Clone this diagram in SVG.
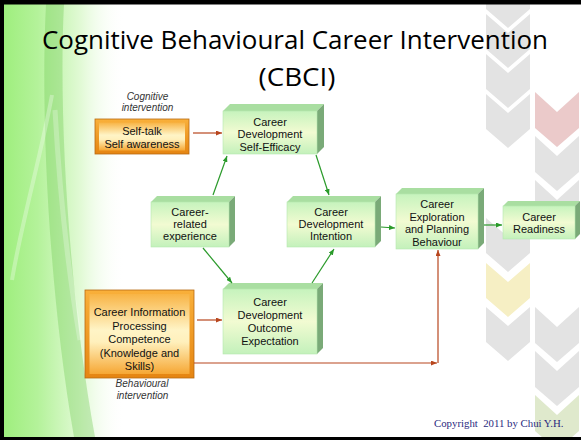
<svg xmlns="http://www.w3.org/2000/svg" width="581" height="440" viewBox="0 0 581 440">
<defs>
<style>
.t{font-family:"Liberation Sans",Arial,sans-serif;font-size:11px;fill:#111;text-anchor:middle}
.it{font-family:"Liberation Sans",Arial,sans-serif;font-size:10px;font-style:italic;fill:#333;text-anchor:middle}
.ttl{font-family:"Open Sans","Liberation Sans",sans-serif;font-size:26px;fill:#000;text-anchor:middle}
.front{fill:url(#gFront);stroke:#b6e6ae;stroke-width:0.6}
.top{fill:#a9dea1}
.side{fill:#7aaa78}
.g{stroke:#2a9a2a;stroke-width:1.2;fill:none;marker-end:url(#mg)}
.b{stroke:#b8461e;stroke-width:1.2;fill:none;marker-end:url(#mb)}
.chg{fill:#e3e3e3}
</style>
<linearGradient id="gFront" x1="0" y1="0" x2="0" y2="1">
<stop offset="0" stop-color="#c6f3bd"/>
<stop offset="0.5" stop-color="#f2fbd2"/>
<stop offset="1" stop-color="#c3f1bb"/>
</linearGradient>
<linearGradient id="gOrIn" x1="0" y1="0" x2="0" y2="1">
<stop offset="0" stop-color="#f8b445"/>
<stop offset="0.45" stop-color="#fff4c6"/>
<stop offset="0.6" stop-color="#fff0bc"/>
<stop offset="1" stop-color="#f6a734"/>
</linearGradient>
<linearGradient id="gOrOut" x1="0" y1="0" x2="0" y2="1">
<stop offset="0" stop-color="#f9b03a"/>
<stop offset="1" stop-color="#e58512"/>
</linearGradient>
<linearGradient id="gLeft" x1="0" y1="0" x2="1" y2="0">
<stop offset="0" stop-color="#9cee7a"/>
<stop offset="0.3" stop-color="#b4f29a"/>
<stop offset="0.65" stop-color="#e2fad6"/>
<stop offset="1" stop-color="#ffffff" stop-opacity="0"/>
</linearGradient>
<marker id="mg" markerWidth="6" markerHeight="5" refX="6" refY="2.5" orient="auto" markerUnits="userSpaceOnUse">
<path d="M0,0 L6,2.5 L0,5 z" fill="#2a9a2a"/>
</marker>
<marker id="mb" markerWidth="6" markerHeight="5" refX="6" refY="2.5" orient="auto" markerUnits="userSpaceOnUse">
<path d="M0,0 L6,2.5 L0,5 z" fill="#b8461e"/>
</marker>
</defs>

<!-- background -->
<rect x="0" y="0" width="581" height="440" fill="#ffffff"/>
<rect x="0" y="0" width="125" height="440" fill="url(#gLeft)"/>
<path d="M46,4 L64,4 C58,120 70,300 95,437 L74,437 C50,300 40,120 46,4 Z" fill="#6cc850" opacity="0.35"/>
<path d="M52,95 C40,160 22,220 12,280" stroke="#ffffff" stroke-width="4" fill="none" opacity="0.3"/>
<path d="M55,110 C60,200 68,270 80,340" stroke="#ffffff" stroke-width="5" fill="none" opacity="0.25"/>

<!-- chevrons -->
<g id="chevrons">
<path class="chg" d="M486,-26 l22,19 l22,-19 v35 l-22,19 l-22,-19 z"/>
<path class="chg" d="M486,14 l22,19 l22,-19 v35 l-22,19 l-22,-19 z"/>
<path class="chg" d="M486,54 l22,19 l22,-19 v35 l-22,19 l-22,-19 z"/>
<path class="chg" d="M486,94 l22,19 l22,-19 v35 l-22,19 l-22,-19 z"/>
<path class="chg" d="M486,218 l22,19 l22,-19 v35 l-22,19 l-22,-19 z"/>
<path fill="#f6efc4" d="M486,263 l22,19 l22,-19 v35 l-22,19 l-22,-19 z"/>
<path class="chg" d="M486,307 l22,19 l22,-19 v35 l-22,19 l-22,-19 z"/>
<path fill="#ebcaca" d="M535,92 l22,20 l22,-20 v36 l-22,19 l-22,-19 z"/>
<path class="chg" d="M535,136 l22,20 l22,-20 v36 l-22,19 l-22,-19 z"/>
<path class="chg" d="M535,180 l22,20 l22,-20 v36 l-22,19 l-22,-19 z"/>
<path class="chg" d="M535,307 l22,20 l22,-20 v36 l-22,19 l-22,-19 z"/>
<path class="chg" d="M535,351 l22,20 l22,-20 v36 l-22,19 l-22,-19 z"/>
<path fill="#dfe9cc" d="M535,395 l22,20 l22,-20 v36 l-22,19 l-22,-19 z"/>
</g>

<!-- border -->
<rect x="0" y="0" width="581" height="4.5" fill="#000"/>
<rect x="0" y="0" width="4" height="440" fill="#000"/>
<rect x="0" y="437" width="581" height="3" fill="#000"/>

<!-- title -->
<text class="ttl" x="295" y="49" textLength="506" lengthAdjust="spacingAndGlyphs">Cognitive Behavioural Career Intervention</text>
<text class="ttl" x="297" y="86" textLength="77" lengthAdjust="spacingAndGlyphs">(CBCI)</text>

<!-- nodes -->
<g id="selftalk">
<rect x="95" y="119" width="94" height="35" fill="url(#gOrOut)" stroke="#b86a12" stroke-width="0.8"/>
<rect x="99" y="122.5" width="86" height="28" fill="url(#gOrIn)"/>
<text class="t" x="142" y="135">Self-talk</text>
<text class="t" x="142" y="148">Self awareness</text>
<text class="it" x="147.5" y="99.5">Cognitive</text>
<text class="it" x="147.5" y="110.5">intervention</text>
</g>

<g id="cip">
<rect x="85" y="290" width="109" height="88" fill="url(#gOrOut)" stroke="#b86a12" stroke-width="0.8"/>
<rect x="89.5" y="294" width="100" height="80" fill="url(#gOrIn)"/>
<text class="t" x="139.5" y="316">Career Information</text>
<text class="t" x="139.5" y="329.5">Processing</text>
<text class="t" x="139.5" y="343">Competence</text>
<text class="t" x="139.5" y="356.5">(Knowledge  and</text>
<text class="t" x="139.5" y="370">Skills)</text>
<text class="it" x="142" y="386.5">Behavioural</text>
<text class="it" x="142.5" y="398.5">intervention</text>
</g>

<g id="selfefficacy">
<polygon class="top" points="223,111 230,104 324,104 317,111"/>
<polygon class="side" points="317,111 324,104 324,147 317,154"/>
<rect class="front" x="223" y="111" width="94" height="43"/>
<text class="t" x="270" y="125.5">Career</text>
<text class="t" x="270" y="138">Development</text>
<text class="t" x="270" y="151">Self-Efficacy</text>
</g>

<g id="experience">
<polygon class="top" points="151,202 157,196 235,196 229,202"/>
<polygon class="side" points="229,202 235,196 235,241 229,247"/>
<rect class="front" x="151" y="202" width="78" height="45"/>
<text class="t" x="190" y="216">Career-</text>
<text class="t" x="190" y="228">related</text>
<text class="t" x="190" y="240">experience</text>
</g>

<g id="intention">
<polygon class="top" points="287,202 293,196 381,196 375,202"/>
<polygon class="side" points="375,202 381,196 381,241 375,247"/>
<rect class="front" x="287" y="202" width="88" height="45"/>
<text class="t" x="331" y="216">Career</text>
<text class="t" x="331" y="228">Development</text>
<text class="t" x="331" y="240">Intention</text>
</g>

<g id="outcome">
<polygon class="top" points="223,289 229,283 323,283 317,289"/>
<polygon class="side" points="317,289 323,283 323,348 317,354"/>
<rect class="front" x="223" y="289" width="94" height="65"/>
<text class="t" x="270" y="306">Career</text>
<text class="t" x="270" y="319">Development</text>
<text class="t" x="270" y="332">Outcome</text>
<text class="t" x="270" y="345">Expectation</text>
</g>

<g id="exploration">
<polygon class="top" points="396,194 402,188 484,188 478,194"/>
<polygon class="side" points="478,194 484,188 484,243 478,249"/>
<rect class="front" x="396" y="194" width="82" height="55"/>
<text class="t" x="437" y="208">Career</text>
<text class="t" x="437" y="220.5">Exploration</text>
<text class="t" x="437" y="233">and Planning</text>
<text class="t" x="437" y="245.5">Behaviour</text>
</g>

<g id="readiness">
<polygon class="top" points="503,206 508,201 580,201 575,206"/>
<polygon class="side" points="575,206 580,201 580,234 575,239"/>
<rect class="front" x="503" y="206" width="72" height="33"/>
<text class="t" x="539" y="220.5">Career</text>
<text class="t" x="539" y="233">Readiness</text>
</g>

<!-- connectors -->
<g id="connectors">
<line class="g" x1="213" y1="195" x2="227" y2="156"/>
<line class="g" x1="316" y1="155" x2="329" y2="195"/>
<line class="g" x1="203" y1="248" x2="232" y2="283"/>
<line class="g" x1="312" y1="283" x2="334" y2="249"/>
<line class="g" x1="381" y1="227" x2="395" y2="228"/>
<line class="g" x1="484" y1="225" x2="502" y2="225"/>
<line class="b" x1="193" y1="133" x2="222" y2="133"/>
<line class="b" x1="197" y1="320" x2="222" y2="320"/>
<line class="b" x1="194" y1="363" x2="437" y2="363"/>
<line class="b" x1="438" y1="363" x2="438" y2="250"/>
</g>

<text x="434" y="427" font-family="'Liberation Serif','Times New Roman',serif" font-size="10.8" fill="#2a2a80" xml:space="preserve">Copyright  2011 by Chui Y.H.</text>
</svg>
